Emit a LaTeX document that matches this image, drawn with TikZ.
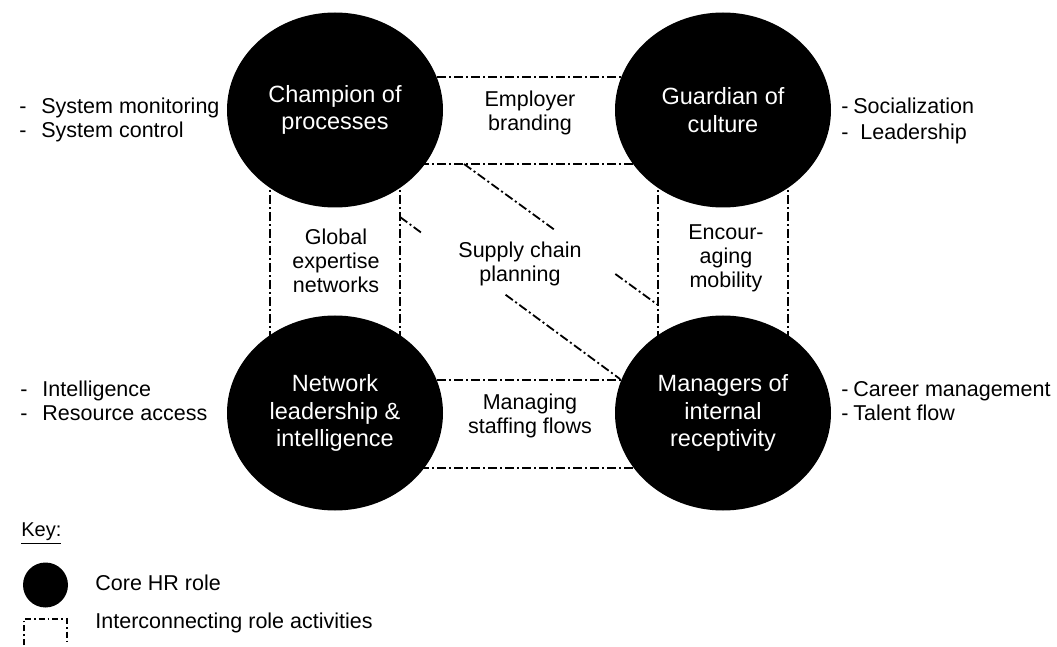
\documentclass[tikz,border=0pt]{standalone}
\usepackage{fontspec}
\setmainfont{Liberation Sans}
\usetikzlibrary{shapes.geometric,backgrounds,calc}
\begin{document}
\begin{tikzpicture}[x=0.5pt,y=-0.5pt,
  role/.style={ellipse, fill=black, minimum width=108pt, minimum height=97.5pt, inner sep=0pt, text=white, align=center, font=\fontsize{11.75pt}{13.75pt}\selectfont},
  band/.style={align=center, font=\fontsize{10.75pt}{12pt}\selectfont, inner sep=0pt},
  side/.style={align=left, anchor=west, font=\fontsize{10.75pt}{12pt}\selectfont, inner sep=0pt},
  link/.style={line width=0.9pt, dash pattern=on 4.5pt off 1.5pt on 1pt off 1.5pt}]
\useasboundingbox (0,0) rectangle (1057,647);

% core roles
\node[role] (champ) at (335,110) {Champion of\\processes};
\node[role] (guard) at (723,110) {Guardian of\\culture};
\node[role] (net) at (335,413) {Network\\leadership \&\\intelligence};
\node[role] (mgr) at (723,413) {Managers of\\internal\\receptivity};

% interconnecting activities (behind the roles)
\begin{scope}[on background layer]
  \fill[white] (0,0) rectangle (1057,647);
  \draw[link] ($(champ.center)+(0,-33)$) -- ($(guard.center)+(0,-33)$);
  \draw[link] ($(champ.center)+(0,54)$) -- ($(guard.center)+(0,54)$);
  \draw[link] ($(net.center)+(0,-33)$) -- ($(mgr.center)+(0,-33)$);
  \draw[link] ($(net.center)+(0,55)$) -- ($(mgr.center)+(0,55)$);
  \draw[link] ($(champ.center)+(-65,0)$) -- ($(net.center)+(-65,0)$);
  \draw[link] ($(champ.center)+(65,0)$) -- ($(net.center)+(65,0)$);
  \draw[link] ($(guard.center)+(-65,0)$) -- ($(mgr.center)+(-65,0)$);
  \draw[link] ($(guard.center)+(65,0)$) -- ($(mgr.center)+(65,0)$);
  \coordinate (a1) at (464,164);
  \coordinate (a2) at (658,305);
  \coordinate (b1) at (400,217);
  \coordinate (b2) at (620,379);
  \draw[link] (a1) -- ($(a1)!0.47!(a2)$);
  \draw[link] ($(a1)!0.78!(a2)$) -- (a2);
  \draw[link] (b1) -- ($(b1)!0.10!(b2)$);
  \draw[link] ($(b1)!0.48!(b2)$) -- (b2);
\end{scope}

% activity labels
\node[band] (emp) at (530,113) {Employer\\branding};
\node[band] (glob) at (336,261) {Global\\expertise\\networks};
\node[band] (supply) at (520,264) {Supply chain\\planning};
\node[band] (enc) at (726,258) {Encour-\\aging\\mobility};
\node[band] (stf) at (530,416) {Managing\\staffing flows};

% side lists
\node[side] (s1) at (19,120) {\makebox[11pt][l]{-}System monitoring\\\makebox[11pt][l]{-}System control};
\node[side, font=\fontsize{10.75pt}{13pt}\selectfont] (s2) at (841,121) {\makebox[6pt][l]{-}Socialization\\\makebox[9.5pt][l]{-}Leadership};
\node[side] (s3) at (20,401) {\makebox[11pt][l]{-}Intelligence\\\makebox[11pt][l]{-}Resource access};
\node[side] (s4) at (841,401) {\makebox[6pt][l]{-}Career management\\\makebox[6pt][l]{-}Talent flow};

% key
\node[side, font=\fontsize{10pt}{11pt}\selectfont] (key) at (21,534) {\underline{Key:}};
\node[circle, fill=black, minimum size=22.5pt, inner sep=0pt] (kc) at (45.5,585) {};
\node[side] (kct) at (95,583) {Core HR role};
\draw[line width=0.7pt, dash pattern=on 3pt off 1.5pt on 0.8pt off 1.5pt] (24,645) -- (24,619) -- (67,619) -- (67,645);
\node[side] (kit) at (95,623) {Interconnecting role activities};
\end{tikzpicture}
\end{document}
